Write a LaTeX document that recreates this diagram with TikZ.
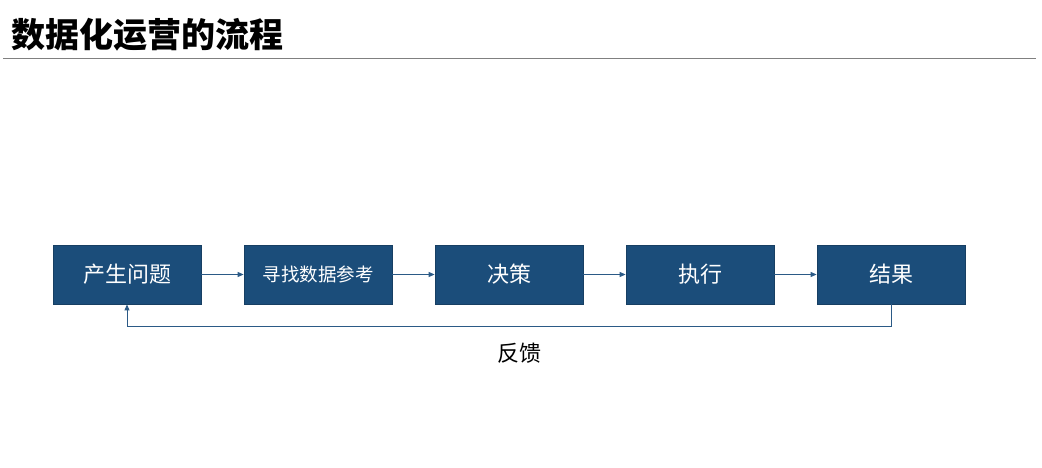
\documentclass[tikz,border=0pt]{standalone}
\usepackage{fontspec}
\newfontfamily\cjk{Noto Sans CJK SC}
\usetikzlibrary{arrows.meta}
\definecolor{boxblue}{HTML}{1B4D7A}
\definecolor{boxedge}{HTML}{173F63}
\definecolor{arrblue}{HTML}{2B5A86}
\definecolor{rulegray}{HTML}{808080}
\tikzset{
  stepbox/.style={draw=boxedge, line width=0.8pt, fill=boxblue, minimum width=148pt, minimum height=59pt, inner sep=0pt, text=white, font=\cjk\fontsize{22}{24}\selectfont},
  flow/.style={draw=arrblue, line width=0.9pt, -{Triangle[length=6pt,width=5pt]}}
}
\begin{document}
\begin{tikzpicture}[x=1pt,y=-1pt]
\useasboundingbox (0,0) rectangle (1042,468);
\node[anchor=west, inner sep=0pt, font=\cjk\bfseries\fontsize{34}{38}\selectfont] (title) at (11,35) {数据化运营的流程};
\coordinate (rl) at (3,58.5);
\coordinate (rr) at (1036,58.5);
\draw[rulegray, line width=0.9pt] (rl) -- (rr);
\node[stepbox] (b1) at (127,274.5) {产生问题};
\node[stepbox, font=\cjk\fontsize{18.5}{22}\selectfont] (b2) at (318,274.5) {寻找数据参考};
\node[stepbox] (b3) at (509,274.5) {决策};
\node[stepbox] (b4) at (700,274.5) {执行};
\node[stepbox] (b5) at (891,274.5) {结果};
\draw[flow] (b1) -- (b2);
\draw[flow] (b2) -- (b3);
\draw[flow] (b3) -- (b4);
\draw[flow] (b4) -- (b5);
\draw[flow] (b5.south) -- ++(0,22) -| (b1.south);
\node[font=\cjk\fontsize{22}{24}\selectfont, inner sep=0pt] (fb) at (519,353) {反馈};
\end{tikzpicture}
\end{document}
